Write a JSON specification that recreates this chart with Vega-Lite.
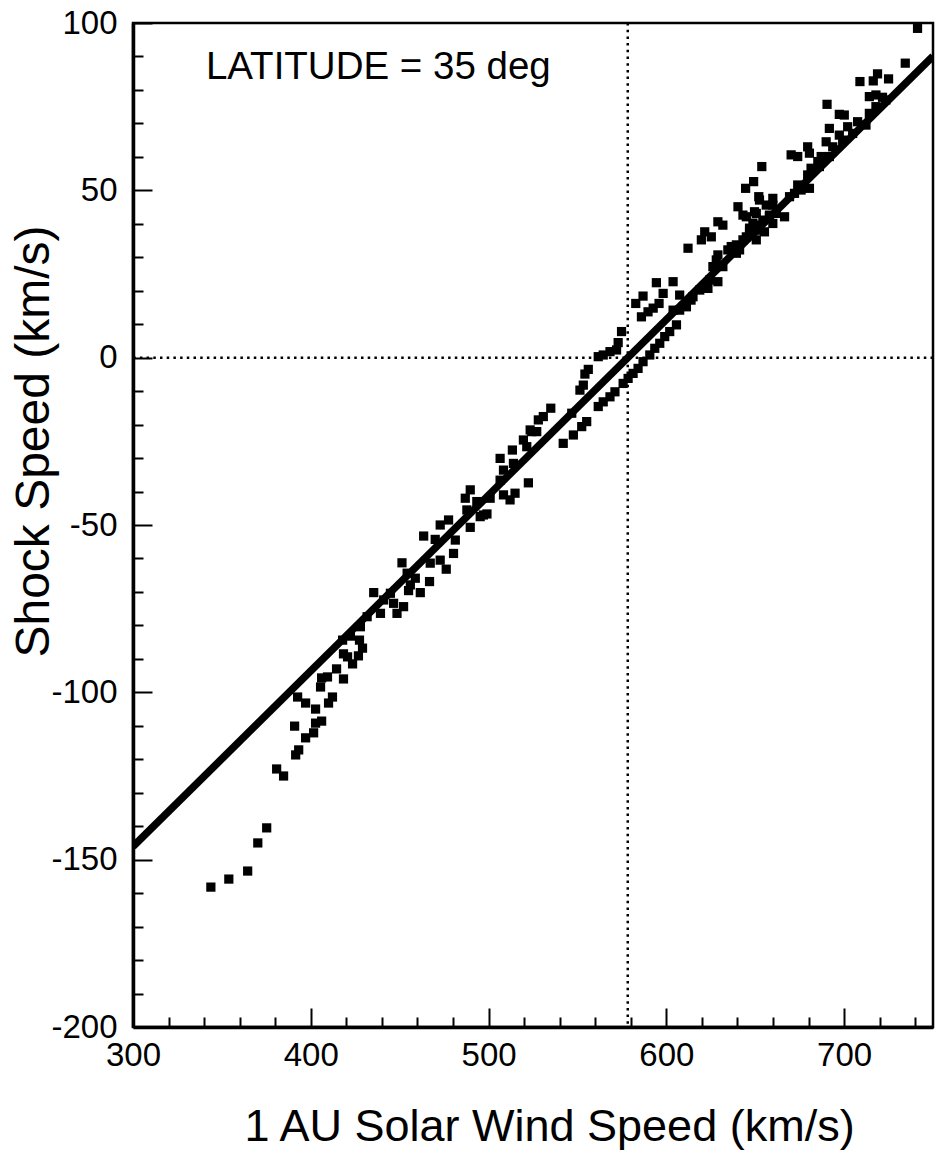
{
  "$schema": "https://vega.github.io/schema/vega-lite/v6.json",
  "width": 800,
  "height": 1004,
  "autosize": {"type": "none"},
  "padding": {"left": 133, "top": 23, "right": 14, "bottom": 130},
  "background": "white",
  "config": {"view": {"stroke": "black", "strokeWidth": 2.5}, "font": "Liberation Sans"},
  "datasets": {
    "points": [
      {"wind": 343.8, "shock": -158.2}, {"wind": 353.9, "shock": -155.8}, {"wind": 364.5, "shock": -153.4}, {"wind": 370.2, "shock": -145.0},
      {"wind": 375.2, "shock": -140.5}, {"wind": 380.8, "shock": -122.9}, {"wind": 384.7, "shock": -125.0}, {"wind": 391.5, "shock": -118.7},
      {"wind": 393.2, "shock": -117.2}, {"wind": 397.1, "shock": -113.6}, {"wind": 401.6, "shock": -112.1}, {"wind": 390.9, "shock": -110.1},
      {"wind": 402.7, "shock": -109.2}, {"wind": 406.1, "shock": -108.6}, {"wind": 392.6, "shock": -101.4}, {"wind": 397.1, "shock": -103.2},
      {"wind": 402.7, "shock": -105.0}, {"wind": 410.0, "shock": -103.2}, {"wind": 412.2, "shock": -101.4}, {"wind": 405.5, "shock": -98.4},
      {"wind": 406.1, "shock": -95.7}, {"wind": 409.4, "shock": -95.4}, {"wind": 414.5, "shock": -93.0}, {"wind": 418.4, "shock": -96.0},
      {"wind": 423.5, "shock": -91.5}, {"wind": 420.7, "shock": -89.4},
      {"wind": 417.9, "shock": -84.4}, {"wind": 422.3, "shock": -83.2}, {"wind": 427.4, "shock": -84.4}, {"wind": 429.1, "shock": -86.8},
      {"wind": 426.8, "shock": -89.1}, {"wind": 418.4, "shock": -88.5},
      {"wind": 427.9, "shock": -80.4}, {"wind": 431.7, "shock": -77.4}, {"wind": 439.2, "shock": -76.4}, {"wind": 441.0, "shock": -72.4},
      {"wind": 444.8, "shock": -70.4}, {"wind": 446.6, "shock": -73.4}, {"wind": 435.4, "shock": -70.2}, {"wind": 448.5, "shock": -76.4},
      {"wind": 452.2, "shock": -74.4}, {"wind": 461.6, "shock": -70.2}, {"wind": 455.0, "shock": -69.6}, {"wind": 451.3, "shock": -61.3},
      {"wind": 454.2, "shock": -64.4}, {"wind": 458.8, "shock": -65.9}, {"wind": 466.8, "shock": -66.9}, {"wind": 467.2, "shock": -61.4},
      {"wind": 472.8, "shock": -60.5}, {"wind": 476.2, "shock": -63.2}, {"wind": 463.5, "shock": -53.3}, {"wind": 470.0, "shock": -54.3},
      {"wind": 480.3, "shock": -58.5}, {"wind": 472.8, "shock": -50.0}, {"wind": 477.5, "shock": -48.5}, {"wind": 489.7, "shock": -50.7},
      {"wind": 487.8, "shock": -45.5}, {"wind": 495.3, "shock": -47.5}, {"wind": 499.1, "shock": -46.7}, {"wind": 486.9, "shock": -42.0},
      {"wind": 489.7, "shock": -39.5}, {"wind": 493.4, "shock": -43.0}, {"wind": 500.9, "shock": -42.0}, {"wind": 508.4, "shock": -41.0},
      {"wind": 512.1, "shock": -42.5}, {"wind": 514.9, "shock": -40.5}, {"wind": 522.4, "shock": -37.4}, {"wind": 506.5, "shock": -36.6},
      {"wind": 506.5, "shock": -30.1}, {"wind": 508.4, "shock": -33.6}, {"wind": 514.0, "shock": -31.6}, {"wind": 513.4, "shock": -27.6},
      {"wind": 519.6, "shock": -24.6}, {"wind": 521.5, "shock": -26.6}, {"wind": 524.3, "shock": -22.1}, {"wind": 528.0, "shock": -18.6},
      {"wind": 481.3, "shock": -54.5}, {"wind": 456.0, "shock": -67.9}, {"wind": 497.1, "shock": -47.0},
      {"wind": 523.4, "shock": -21.6}, {"wind": 527.1, "shock": -22.1}, {"wind": 530.8, "shock": -17.6}, {"wind": 535.0, "shock": -15.1},
      {"wind": 542.0, "shock": -25.6}, {"wind": 547.7, "shock": -23.1}, {"wind": 552.4, "shock": -20.6}, {"wind": 555.2, "shock": -19.1},
      {"wind": 546.8, "shock": -16.6}, {"wind": 551.4, "shock": -9.7}, {"wind": 553.3, "shock": -8.2}, {"wind": 554.2, "shock": -4.9},
      {"wind": 556.1, "shock": -3.5}, {"wind": 561.7, "shock": 0.3}, {"wind": 564.5, "shock": 0.8}, {"wind": 568.3, "shock": 1.8},
      {"wind": 572.0, "shock": 2.3}, {"wind": 572.9, "shock": 4.5}, {"wind": 574.8, "shock": 7.8}, {"wind": 561.7, "shock": -14.6},
      {"wind": 564.5, "shock": -13.2}, {"wind": 568.3, "shock": -11.7}, {"wind": 571.1, "shock": -10.2}, {"wind": 575.7, "shock": -7.7},
      {"wind": 578.5, "shock": -6.2}, {"wind": 581.3, "shock": -4.7}, {"wind": 584.1, "shock": -3.2}, {"wind": 586.9, "shock": -1.2},
      {"wind": 590.7, "shock": 0.8}, {"wind": 593.5, "shock": 2.8}, {"wind": 596.3, "shock": 4.3}, {"wind": 599.1, "shock": 6.3},
      {"wind": 601.9, "shock": 7.8}, {"wind": 605.7, "shock": 9.8}, {"wind": 603.8, "shock": 14.2}, {"wind": 582.8, "shock": 16.2},
      {"wind": 586.9, "shock": 18.4}, {"wind": 586.0, "shock": 12.2}, {"wind": 589.7, "shock": 13.7}, {"wind": 592.6, "shock": 14.8},
      {"wind": 595.9, "shock": 16.2}, {"wind": 598.2, "shock": 19.2}, {"wind": 594.4, "shock": 22.4}, {"wind": 603.8, "shock": 22.7},
      {"wind": 607.5, "shock": 18.7}, {"wind": 611.3, "shock": 15.2}, {"wind": 615.0, "shock": 18.2}, {"wind": 618.8, "shock": 20.2},
      {"wind": 623.4, "shock": 20.7}, {"wind": 624.4, "shock": 23.2}, {"wind": 629.0, "shock": 22.7}, {"wind": 626.2, "shock": 27.2},
      {"wind": 628.1, "shock": 29.2}, {"wind": 631.8, "shock": 27.2}, {"wind": 629.0, "shock": 30.7}, {"wind": 612.2, "shock": 32.7},
      {"wind": 619.7, "shock": 35.2}, {"wind": 621.6, "shock": 37.6}, {"wind": 625.3, "shock": 36.1}, {"wind": 629.0, "shock": 40.6},
      {"wind": 631.8, "shock": 39.6}, {"wind": 634.6, "shock": 32.2}, {"wind": 636.5, "shock": 33.2}, {"wind": 639.4, "shock": 31.2},
      {"wind": 641.2, "shock": 32.2}, {"wind": 645.0, "shock": 36.1}, {"wind": 646.8, "shock": 38.7}, {"wind": 648.7, "shock": 40.2},
      {"wind": 651.5, "shock": 38.1}, {"wind": 654.3, "shock": 41.1}, {"wind": 658.0, "shock": 42.1}, {"wind": 640.3, "shock": 45.1},
      {"wind": 645.0, "shock": 42.1}, {"wind": 649.6, "shock": 43.6}, {"wind": 652.4, "shock": 47.1}, {"wind": 656.2, "shock": 45.6},
      {"wind": 659.9, "shock": 47.6}, {"wind": 659.9, "shock": 45.6}, {"wind": 644.6, "shock": 50.6}, {"wind": 649.1, "shock": 52.6},
      {"wind": 653.7, "shock": 57.1}, {"wind": 607.5, "shock": 14.2}, {"wind": 613.9, "shock": 17.2},
      {"wind": 741.3, "shock": 98.4}, {"wind": 734.4, "shock": 88.0}, {"wind": 725.0, "shock": 83.3}, {"wind": 718.8, "shock": 84.8},
      {"wind": 716.4, "shock": 82.7}, {"wind": 708.9, "shock": 82.5}, {"wind": 714.2, "shock": 78.0}, {"wind": 717.9, "shock": 78.5},
      {"wind": 721.6, "shock": 77.8}, {"wind": 723.5, "shock": 77.0}, {"wind": 690.4, "shock": 75.7}, {"wind": 697.3, "shock": 72.7},
      {"wind": 700.1, "shock": 72.5}, {"wind": 717.9, "shock": 75.0}, {"wind": 714.2, "shock": 73.0}, {"wind": 707.6, "shock": 70.5},
      {"wind": 702.0, "shock": 69.0}, {"wind": 691.7, "shock": 68.5}, {"wind": 712.3, "shock": 69.5}, {"wind": 704.8, "shock": 67.0},
      {"wind": 697.3, "shock": 66.5}, {"wind": 689.9, "shock": 64.5}, {"wind": 693.6, "shock": 63.0}, {"wind": 699.2, "shock": 65.0},
      {"wind": 679.5, "shock": 63.0}, {"wind": 680.5, "shock": 61.1}, {"wind": 670.2, "shock": 60.6}, {"wind": 673.9, "shock": 60.1},
      {"wind": 687.1, "shock": 60.1}, {"wind": 685.2, "shock": 58.6}, {"wind": 691.7, "shock": 60.1}, {"wind": 681.4, "shock": 56.6},
      {"wind": 686.1, "shock": 57.1}, {"wind": 679.5, "shock": 54.6}, {"wind": 673.9, "shock": 51.6}, {"wind": 675.8, "shock": 50.1},
      {"wind": 680.5, "shock": 50.6}, {"wind": 672.1, "shock": 49.1}, {"wind": 669.3, "shock": 48.1}, {"wind": 652.0, "shock": 48.1},
      {"wind": 643.1, "shock": 42.6}, {"wind": 650.6, "shock": 43.1}, {"wind": 658.0, "shock": 42.6}, {"wind": 661.8, "shock": 43.1},
      {"wind": 666.5, "shock": 42.1}, {"wind": 659.9, "shock": 40.1}, {"wind": 651.5, "shock": 39.6}, {"wind": 655.2, "shock": 37.6},
      {"wind": 646.8, "shock": 37.6}, {"wind": 643.1, "shock": 35.2}, {"wind": 650.6, "shock": 35.2}, {"wind": 639.4, "shock": 33.7}
    ],
    "fit": [{"wind": 300, "shock": -146.1}, {"wind": 750, "shock": 90.1}],
    "refs": [{"label": "LATITUDE = 35 deg", "zeroWind": 578.3, "zeroShock": 0, "labelWind": 341, "labelShock": 83.3}]
  },
  "layer": [
    {
      "data": {"name": "points"},
      "mark": {"type": "square", "size": 85, "color": "black", "opacity": 1},
      "encoding": {
        "x": {
          "field": "wind", "type": "quantitative",
          "scale": {"domain": [300, 750], "nice": false, "zero": false},
          "axis": {
            "title": "1 AU Solar Wind Speed (km/s)",
            "tickCount": 23,
            "grid": false, "ticks": true, "tickColor": "black", "tickWidth": 2,
            "tickSize": {"condition": {"test": "datum.value % 100 === 0", "value": -19}, "value": -10},
            "labelExpr": "datum.value % 100 === 0 ? '' + datum.value : ''",
            "labelFont": "Liberation Sans", "labelFontSize": 33, "labelColor": "black", "labelPadding": 31,
            "labelFlush": false, "labelOverlap": false,
            "domainColor": "black", "domainWidth": 3.5,
            "titleFont": "Liberation Sans", "titleFontSize": 45, "titleFontWeight": "normal", "titleColor": "black",
            "titleX": 416, "titleY": 113, "titleBaseline": "alphabetic", "titleAlign": "center"
          }
        },
        "y": {
          "field": "shock", "type": "quantitative",
          "scale": {"domain": [-200, 100], "nice": false, "zero": false},
          "axis": {
            "title": "Shock Speed (km/s)",
            "tickCount": 30,
            "grid": false, "ticks": true, "tickColor": "black", "tickWidth": 2,
            "tickSize": {"condition": {"test": "datum.value % 50 === 0", "value": -19}, "value": -10},
            "labelExpr": "datum.value % 50 === 0 ? '' + datum.value : ''",
            "labelFont": "Liberation Sans", "labelFontSize": 33, "labelColor": "black", "labelPadding": 35,
            "labelFlush": false, "labelOverlap": false, "labelBaseline": "middle",
            "domainColor": "black", "domainWidth": 3.5,
            "titleFont": "Liberation Sans", "titleFontSize": 48, "titleFontWeight": "normal", "titleColor": "black",
            "titleX": -85, "titleY": 418, "titleAngle": -90, "titleBaseline": "alphabetic", "titleAlign": "center"
          }
        }
      }
    },
    {
      "data": {"name": "refs"},
      "mark": {"type": "rule", "color": "black", "strokeWidth": 2.5, "strokeDash": [2.5, 4.2]},
      "encoding": {"x": {"field": "zeroWind", "type": "quantitative"}}
    },
    {
      "data": {"name": "refs"},
      "mark": {"type": "rule", "color": "black", "strokeWidth": 2.5, "strokeDash": [2.5, 4.2]},
      "encoding": {"y": {"field": "zeroShock", "type": "quantitative"}}
    },
    {
      "data": {"name": "fit"},
      "mark": {"type": "line", "color": "black", "strokeWidth": 7.5, "clip": true},
      "encoding": {
        "x": {"field": "wind", "type": "quantitative"},
        "y": {"field": "shock", "type": "quantitative"}
      }
    },
    {
      "data": {"name": "refs"},
      "mark": {"type": "text", "align": "left", "baseline": "alphabetic", "fontSize": 38.5, "font": "Liberation Sans", "color": "black"},
      "encoding": {
        "x": {"field": "labelWind", "type": "quantitative"},
        "y": {"field": "labelShock", "type": "quantitative"},
        "text": {"field": "label"}
      }
    }
  ]
}
